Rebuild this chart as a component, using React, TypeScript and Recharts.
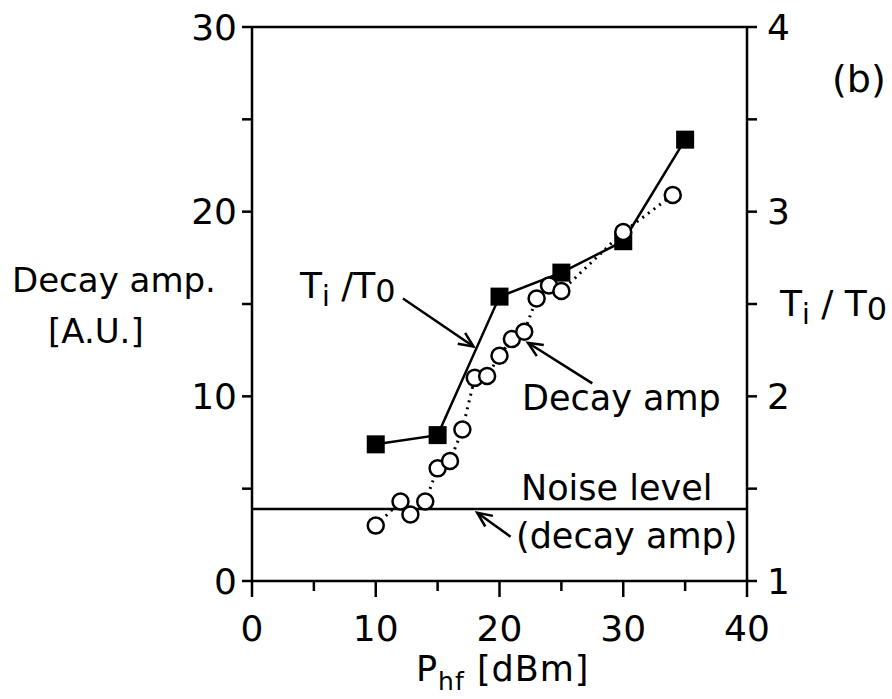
import { ComposedChart, Line, XAxis, YAxis, ReferenceLine } from 'recharts';

const FONT = '"DejaVu Sans", sans-serif';

// T_i / T_0 (right axis), filled squares
const tiPower = [10, 15, 20, 25, 30, 35];
const tiRatio = [1.74, 1.79, 2.54, 2.67, 2.84, 3.39];

// decay amplitude (left axis), open circles
const ampPower = [10, 12, 12.8, 14, 15, 16, 17, 18, 19, 20, 21, 22, 23, 24, 25, 30, 34];
const ampValue = [3.0, 4.3, 3.6, 4.3, 6.1, 6.5, 8.2, 11.0, 11.1, 12.2, 13.1, 13.5, 15.3, 16.0, 15.7, 18.9, 20.9];

const noiseLevel = 3.9;

const xTicks = [0, 5, 10, 15, 20, 25, 30, 35, 40];
const leftTicks = [0, 5, 10, 15, 20, 25, 30];
const rightTicks = [1, 1.5, 2, 2.5, 3, 3.5, 4];

// annotation arrows: [from, to] in (dBm, decay amp) units
const arrows = [
  [{ x: 12.2, y: 15.3 }, { x: 17.9, y: 12.7 }],
  [{ x: 27.5, y: 10.7 }, { x: 22.3, y: 12.9 }],
  [{ x: 20.9, y: 2.4 }, { x: 18.2, y: 3.7 }],
];

const tiData = tiPower.map((p, i) => ({ p, ti: tiRatio[i] }));
const ampData = ampPower.map((p, i) => ({ p, amp: ampValue[i] }));

const Square = (props: any) => {
  const { cx, cy, index } = props;
  return <rect key={`sq-${index}`} x={cx - 9} y={cy - 9} width={18} height={18} fill="#000" />;
};

const Circle = (props: any) => {
  const { cx, cy, index } = props;
  return <circle key={`ci-${index}`} cx={cx} cy={cy} r={8} fill="#fff" stroke="#000" strokeWidth={2.5} />;
};

const Arrow = (props: any) => {
  const { x1, y1, x2, y2 } = props;
  const a = Math.atan2(y2 - y1, x2 - x1);
  const len = 16;
  const spread = 0.42;
  const ax = x2 - len * Math.cos(a - spread);
  const ay = y2 - len * Math.sin(a - spread);
  const bx = x2 - len * Math.cos(a + spread);
  const by = y2 - len * Math.sin(a + spread);
  return (
    <g>
      <line x1={x1} y1={y1} x2={x2} y2={y2} stroke="#000" strokeWidth={2.5} />
      <polyline points={`${ax},${ay} ${x2},${y2} ${bx},${by}`} fill="none" stroke="#000" strokeWidth={2.5} />
    </g>
  );
};

const XTick = (props: any) => {
  const { x, y, payload } = props;
  const major = payload.value % 10 === 0;
  const axisY = y - 34;
  return (
    <g>
      {major && <line x1={x} y1={axisY + 10} x2={x} y2={axisY + 16} stroke="#000" strokeWidth={2.5} />}
      {major && (
        <text x={x} y={y + 26} textAnchor="middle" fontSize={36} fontFamily={FONT} fill="#000">
          {payload.value}
        </text>
      )}
    </g>
  );
};

const txt = { fontFamily: FONT, fill: '#000' };

export default function App() {
  return (
    <div style={{ position: 'absolute', left: 0, top: 0, background: '#fff' }}>
      <ComposedChart width={892} height={699} margin={{ top: 27, right: 0, bottom: 0, left: 0 }}>
        <XAxis
          type="number"
          dataKey="p"
          domain={[0, 40]}
          ticks={xTicks}
          allowDataOverflow
          height={118}
          tickSize={10}
          tickMargin={24}
          tick={<XTick />}
          stroke="#000"
          strokeWidth={2.5}
        />
        <YAxis
          yAxisId="left"
          domain={[0, 30]}
          ticks={leftTicks}
          width={252}
          tickSize={10}
          tickMargin={5}
          tickFormatter={(v: number) => (v % 10 === 0 ? String(v) : '')}
          tick={{ fontSize: 36, fontFamily: FONT, fill: '#000' }}
          stroke="#000"
          strokeWidth={2.5}
        />
        <YAxis
          yAxisId="right"
          orientation="right"
          domain={[1, 4]}
          ticks={rightTicks}
          width={145}
          tickSize={10}
          tickMargin={10}
          tickFormatter={(v: number) => (Number.isInteger(v) ? String(v) : '')}
          tick={{ fontSize: 36, fontFamily: FONT, fill: '#000' }}
          stroke="#000"
          strokeWidth={2.5}
        />
        <ReferenceLine yAxisId="left" y={30} stroke="#000" strokeWidth={2.5} ifOverflow="visible" />
        <ReferenceLine yAxisId="left" y={noiseLevel} stroke="#000" strokeWidth={2.5} />
        {arrows.map((seg, i) => (
          <ReferenceLine key={i} yAxisId="left" segment={seg} shape={<Arrow />} ifOverflow="visible" />
        ))}
        <Line
          data={tiData}
          dataKey="ti"
          yAxisId="right"
          type="linear"
          stroke="#000"
          strokeWidth={2.5}
          dot={Square}
          isAnimationActive={false}
        />
        <Line
          data={ampData}
          dataKey="amp"
          yAxisId="left"
          type="linear"
          stroke="#000"
          strokeWidth={3}
          strokeDasharray="2 5"
          dot={Circle}
          isAnimationActive={false}
        />

        <text x={12} y={292} fontSize={34} {...txt}>Decay amp.</text>
        <text x={48} y={343} fontSize={34} {...txt}>[A.U.]</text>
        <text x={416} y={681} fontSize={35} letterSpacing={1} {...txt}>
          P<tspan fontSize={25} dy={9}>hf</tspan>
          <tspan fontSize={35} dy={-9}>{'  [dBm]'}</tspan>
        </text>
        <text x={780} y={316} fontSize={36} {...txt}>
          T<tspan fontSize={28} dy={8}>i</tspan>
          <tspan fontSize={36} dy={-8}>{' / T'}</tspan>
          <tspan fontSize={32} dy={4}>0</tspan>
        </text>
        <text x={300} y={298} fontSize={36} {...txt}>
          T<tspan fontSize={28} dy={8}>i</tspan>
          <tspan fontSize={36} dy={-8}>{'  /T'}</tspan>
          <tspan fontSize={32} dy={4}>0</tspan>
        </text>
        <text x={522} y={410} fontSize={35} {...txt}>Decay amp</text>
        <text x={521} y={500} fontSize={35} {...txt}>Noise level</text>
        <text x={516} y={548} fontSize={35} {...txt}>(decay amp)</text>
        <text x={832} y={92} fontSize={38} {...txt}>(b)</text>
      </ComposedChart>
    </div>
  );
}
